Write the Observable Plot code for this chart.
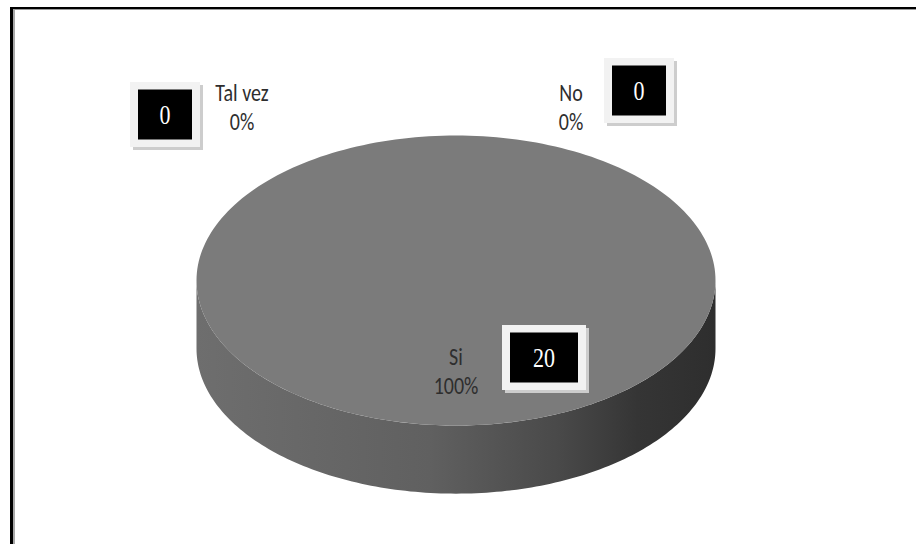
<!DOCTYPE html>
<html>
<head>
<meta charset="utf-8">
<script src="https://cdn.jsdelivr.net/npm/d3@7"></script>
<script src="https://cdn.jsdelivr.net/npm/@observablehq/plot@0.6"></script>
<style>
  html, body { margin: 0; padding: 0; background: #fff; overflow: hidden; width: 916px; height: 544px; }
  #chart { position: absolute; left: 0; top: 0; }
  #frame { position: absolute; left: 10px; top: 7px; width: 960px; height: 600px; box-sizing: border-box;
           border-top: 2px solid #000; border-left: 3px solid #000; pointer-events: none; }
  #frame::after { content: ""; position: absolute; left: 0; top: 0; right: 0; bottom: 0;
           border-top: 1px solid #9a9a9a; border-left: 2px solid #a8a8a8; }
</style>
</head>
<body>
<div id="chart"></div>
<div id="frame"></div>
<script>
// ---- data ----
const categories = ["Si", "No", "Tal vez"];
const counts = [20, 0, 0];
const percentLabels = ["100%", "0%", "0%"];

// ---- styling / layout (not data) ----
const topColor = "#7b7b7b";
const depth = 0.47;               // pie thickness in y-units
const labelFont = "Carlito, Lato, 'Open Sans', sans-serif";
const boxFont = "'Liberation Serif', 'Times New Roman', serif";
const stretchY = 1.25;            // the reference text is vertically stretched
const annot = {
  "Si":      { dx: 0,    dy: 0, bdx: 88,  bdy: -13 },
  "No":      { dx: 115,  dy: 0, bdx: 68,  bdy: -16 },
  "Tal vez": { dx: -214, dy: 0, bdx: -77, bdy: 8 }
};

const rows = categories.map((c, i) => ({ category: c, count: counts[i], pct: percentLabels[i] }));
const arcs = d3.pie().sort(null).value(d => d.count)(rows);

// top faces and visible front sides
const topPts = [];
const sidePts = [];
for (const a of arcs) {
  const span = a.endAngle - a.startAngle;
  if (span <= 0) continue;
  const n = Math.max(2, Math.ceil(span / (2 * Math.PI) * 240));
  topPts.push({ slice: a.data.category, x: 0, y: 0 });
  for (let k = 0; k <= n; k++) {
    const t = a.startAngle + span * k / n;
    topPts.push({ slice: a.data.category, x: Math.sin(t), y: -Math.cos(t) });
  }
  const s0 = Math.max(a.startAngle, Math.PI / 2), s1 = Math.min(a.endAngle, 3 * Math.PI / 2);
  if (s1 > s0) {
    const m = Math.ceil((s1 - s0) / Math.PI * 160);
    const rim = d3.range(m + 1).map(k => s0 + (s1 - s0) * k / m);
    for (const t of rim) sidePts.push({ slice: a.data.category, x: Math.sin(t), y: -Math.cos(t) });
    for (const t of rim.slice().reverse()) sidePts.push({ slice: a.data.category, x: Math.sin(t), y: -Math.cos(t) + depth });
  }
}

// label anchors from slice mid-angles
const labelRows = arcs.map(a => {
  const mid = (a.startAngle + a.endAngle) / 2;
  const inside = a.data.count > 0;
  const r = inside ? 0.62 : 1.2;
  return { ...a.data, lx: Math.sin(mid) * r, ly: -Math.cos(mid) * r };
});

const rectSymbol = (w, h) => ({
  draw(ctx) {
    ctx.moveTo(-w / 2, -h / 2); ctx.lineTo(w / 2, -h / 2);
    ctx.lineTo(w / 2, h / 2); ctx.lineTo(-w / 2, h / 2); ctx.closePath();
  }
});

const labelMarks = [];
const boxMarks = [];
for (const r of labelRows) {
  const o = annot[r.category];
  labelMarks.push(Plot.text([r], {
    x: "lx", y: "ly", text: d => d.category + "\n" + d.pct, ariaDescription: "stretch",
    dx: o.dx, dy: o.dy, fill: "#2e2e2e", fontSize: 20, lineHeight: 1.15, fontFamily: labelFont
  }));
  const w = String(r.count).length > 1 ? 68 : 54, h = 50;
  boxMarks.push(
    Plot.dot([r], { x: "lx", y: "ly", dx: o.dx + o.bdx + 3, dy: o.dy + o.bdy + 3, r: 1,
      symbol: rectSymbol(w + 16, h + 15), fill: "#cdcdcd", stroke: "none" }),
    Plot.dot([r], { x: "lx", y: "ly", dx: o.dx + o.bdx, dy: o.dy + o.bdy, r: 1,
      symbol: rectSymbol(w + 16, h + 15), fill: "#f2f2f2", stroke: "none" }),
    Plot.dot([r], { x: "lx", y: "ly", dx: o.dx + o.bdx, dy: o.dy + o.bdy, r: 1,
      symbol: rectSymbol(w, h), fill: "#000", stroke: "none" }),
    Plot.text([r], { x: "lx", y: "ly", dx: o.dx + o.bdx, dy: o.dy + o.bdy + 1, text: d => String(d.count),
      ariaDescription: "stretch", fill: "#fff", fontSize: 22, fontFamily: boxFont })
  );
}

const chart = Plot.plot({
  width: 916,
  height: 544,
  margin: 0,
  style: { background: "transparent", fontFamily: labelFont },
  x: { domain: [-1, 1], range: [196, 715], axis: null },
  y: { domain: [-1, 1], range: [135, 425], axis: null },
  marks: [
    Plot.line(sidePts, { x: "x", y: "y", z: "slice", fill: "url(#sideGrad)", stroke: "none", curve: "linear-closed" }),
    Plot.line(topPts, { x: "x", y: "y", z: "slice", fill: topColor, stroke: "none", curve: "linear-closed" }),
    ...labelMarks,
    ...boxMarks
  ]
});

const defs = document.createElementNS("http://www.w3.org/2000/svg", "defs");
defs.innerHTML = `<linearGradient id="sideGrad" x1="0" x2="1" y1="0" y2="0">
  <stop offset="0" stop-color="#6e6e6e"/>
  <stop offset="0.45" stop-color="#606060"/>
  <stop offset="0.7" stop-color="#494949"/>
  <stop offset="0.85" stop-color="#353535"/>
  <stop offset="1" stop-color="#2e2e2e"/>
</linearGradient>`;
chart.prepend(defs);
// stretch text vertically around its anchor, as in the reference
for (const t of chart.querySelectorAll('g[aria-description="stretch"] text')) {
  const tr = t.getAttribute("transform");
  if (tr) t.setAttribute("transform", tr + ` scale(1,${stretchY})`);
  else {
    const x = +t.getAttribute("x") || 0, y = +t.getAttribute("y") || 0;
    t.setAttribute("transform", `translate(${x},${y}) scale(1,${stretchY}) translate(${-x},${-y})`);
  }
}
document.getElementById("chart").appendChild(chart);
</script>
</body>
</html>
